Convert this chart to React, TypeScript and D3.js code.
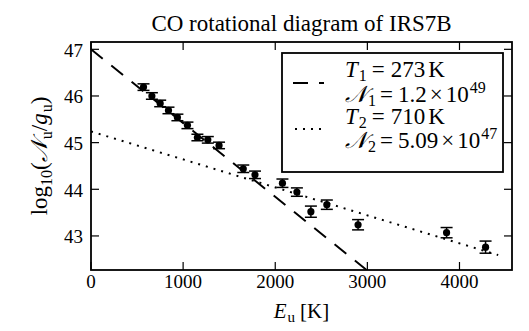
import React from 'react';
import * as d3 from 'd3';

// upper level energies (K), log10 column density / degeneracy, 1-sigma errors
const energy = [570, 661, 751, 841, 938, 1047, 1155, 1268, 1390, 1653, 1780, 2078, 2235, 2387, 2560, 2899, 3860, 4283];
const logN = [46.19, 46.0, 45.84, 45.69, 45.54, 45.37, 45.11, 45.06, 44.94, 44.44, 44.31, 44.13, 43.94, 43.52, 43.67, 43.24, 43.07, 42.76];
const logErr = [0.07, 0.07, 0.07, 0.07, 0.07, 0.07, 0.07, 0.07, 0.07, 0.08, 0.08, 0.09, 0.09, 0.12, 0.1, 0.11, 0.11, 0.13];

// fitted components (end points)
const warmFitE = [0, 3100];
const warmFitV = [47.0, 42.1];
const hotFitE = [0, 4420];
const hotFitV = [45.24, 42.59];

const xTicks = [0, 1000, 2000, 3000, 4000];
const yTicks = [43, 44, 45, 46, 47];

const font = '"Liberation Serif", "DejaVu Serif", serif';
const W = 529;
const H = 331;
const m = { left: 91, right: 512, top: 42, bottom: 270 };

export default function App() {
  const x = d3.scaleLinear().domain([0, 4570]).range([m.left, m.right]);
  const y = d3.scaleLinear().domain([42.27, 47.157]).range([m.bottom, m.top]);

  const line = d3.line<[number, number]>()
    .x(d => x(d[0]))
    .y(d => y(d[1]));

  const warm = line(warmFitE.map((e, i) => [e, warmFitV[i]]));
  const hot = line(hotFitE.map((e, i) => [e, hotFitV[i]]));

  const tick = 8;
  const cap = 6;
  const big = 23;
  const sub = 16;

  return (
    <svg width={W} height={H} style={{ position: 'absolute', left: 0, top: 0 }} fontFamily={font}>
      <rect width={W} height={H} fill="#fff" />
      <defs>
        <clipPath id="plot-clip">
          <rect x={m.left} y={m.top} width={m.right - m.left} height={m.bottom - m.top} />
        </clipPath>
      </defs>

      {/* title */}
      <text x={(m.left + m.right) / 2} y={31} fontSize={big} textAnchor="middle">CO rotational diagram of IRS7B</text>

      {/* fits */}
      <g clipPath="url(#plot-clip)" fill="none" stroke="#000">
        <path d={warm || ''} strokeWidth={2} strokeDasharray="15 11" />
        <path d={hot || ''} strokeWidth={2} strokeDasharray="2 6" />
      </g>

      {/* data */}
      <g stroke="#000" strokeWidth={1.5}>
        {energy.map((e, i) => (
          <g key={'p' + i}>
            <line x1={x(e)} x2={x(e)} y1={y(logN[i] - logErr[i])} y2={y(logN[i] + logErr[i])} />
            <line x1={x(e) - cap} x2={x(e) + cap} y1={y(logN[i] - logErr[i])} y2={y(logN[i] - logErr[i])} />
            <line x1={x(e) - cap} x2={x(e) + cap} y1={y(logN[i] + logErr[i])} y2={y(logN[i] + logErr[i])} />
            <circle cx={x(e)} cy={y(logN[i])} r={3.6} fill="#000" stroke="none" />
          </g>
        ))}
      </g>

      {/* ticks on all four sides, pointing in */}
      <g stroke="#000" strokeWidth={1.2}>
        {xTicks.map(t => (
          <g key={'xt' + t}>
            <line x1={x(t)} x2={x(t)} y1={m.bottom} y2={m.bottom - tick} />
            <line x1={x(t)} x2={x(t)} y1={m.top} y2={m.top + tick} />
          </g>
        ))}
        {yTicks.map(t => (
          <g key={'yt' + t}>
            <line x1={m.left} x2={m.left + tick} y1={y(t)} y2={y(t)} />
            <line x1={m.right} x2={m.right - tick} y1={y(t)} y2={y(t)} />
          </g>
        ))}
      </g>
      <rect x={m.left} y={m.top} width={m.right - m.left} height={m.bottom - m.top} fill="none" stroke="#000" strokeWidth={1.8} />

      {/* tick labels */}
      <g fontSize={19}>
        {xTicks.map(t => (
          <text key={'xl' + t} x={x(t)} y={288} textAnchor="middle">{t}</text>
        ))}
        {yTicks.map(t => (
          <text key={'yl' + t} x={83} y={y(t) + 7.5} textAnchor="end">{t}</text>
        ))}
      </g>

      {/* axis labels */}
      <text x={(m.left + m.right) / 2} y={318} fontSize={21} textAnchor="middle">
        <tspan fontStyle="italic">E</tspan>
        <tspan fontSize={15} dy={4} dx={1}>u</tspan>
        <tspan dy={-4} dx={5}>[K]</tspan>
      </text>
      <text transform={`translate(47 ${(m.top + m.bottom) / 2}) rotate(-90)`} fontSize={23} textAnchor="middle">
        <tspan>log</tspan>
        <tspan fontSize={sub} dy={5}>10</tspan>
        <tspan dy={-5}>(</tspan>
        <tspan fontStyle="italic">𝒩</tspan>
        <tspan fontSize={sub} dy={5} dx={1}>u</tspan>
        <tspan dy={-5}>/</tspan>
        <tspan fontStyle="italic">g</tspan>
        <tspan fontSize={sub} dy={5} dx={1}>u</tspan>
        <tspan dy={-5}>)</tspan>
      </text>

      {/* legend */}
      <rect x={282} y={53} width={221} height={119} fill="#fff" stroke="#000" strokeWidth={1.8} />
      <line x1={293} x2={324} y1={83} y2={83} stroke="#000" strokeWidth={2} strokeDasharray="15 11" />
      <line x1={295} x2={324} y1={129} y2={129} stroke="#000" strokeWidth={2} strokeDasharray="2 6" />
      <g fontSize={big}>
        <text x={345} y={77}>
          <tspan fontStyle="italic">T</tspan>
          <tspan fontSize={sub} dy={4} dx={1}>1</tspan>
          <tspan dy={-4} dx={5}>=</tspan>
          <tspan dx={6}>273</tspan>
          <tspan dx={3}>K</tspan>
        </text>
        <text x={345} y={102}>
          <tspan fontStyle="italic">𝒩</tspan>
          <tspan fontSize={sub} dy={4} dx={1}>1</tspan>
          <tspan dy={-4} dx={4}>=</tspan>
          <tspan dx={5}>1.2</tspan>
          <tspan dx={3}>×</tspan>
          <tspan dx={3}>10</tspan>
          <tspan fontSize={sub} dy={-9} dx={1}>49</tspan>
        </text>
        <text x={345} y={124}>
          <tspan fontStyle="italic">T</tspan>
          <tspan fontSize={sub} dy={4} dx={1}>2</tspan>
          <tspan dy={-4} dx={5}>=</tspan>
          <tspan dx={6}>710</tspan>
          <tspan dx={3}>K</tspan>
        </text>
        <text x={345} y={148}>
          <tspan fontStyle="italic">𝒩</tspan>
          <tspan fontSize={sub} dy={4} dx={1}>2</tspan>
          <tspan dy={-4} dx={4}>=</tspan>
          <tspan dx={5}>5.09</tspan>
          <tspan dx={3}>×</tspan>
          <tspan dx={3}>10</tspan>
          <tspan fontSize={sub} dy={-9} dx={1}>47</tspan>
        </text>
      </g>
    </svg>
  );
}
